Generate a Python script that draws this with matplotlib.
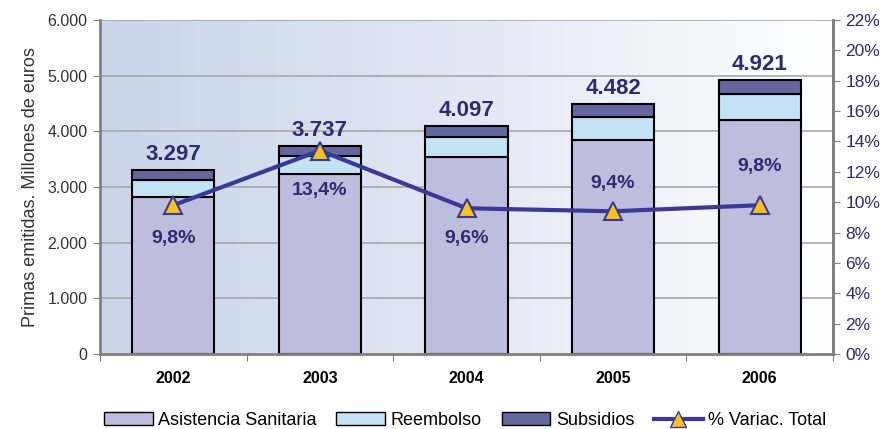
import numpy as np
import matplotlib
matplotlib.use('Agg')
import matplotlib.pyplot as plt
from matplotlib.lines import Line2D
from matplotlib.patches import Patch
from matplotlib.colors import LinearSegmentedColormap

plt.rcParams['font.family'] = ['Liberation Sans', 'DejaVu Sans']

# data
years = ['2002', '2003', '2004', '2005', '2006']
asistencia = [2820, 3228, 3539, 3850, 4203]
reembolso = [306, 329, 359, 400, 462]
subsidios = [171, 180, 199, 232, 256]
totales = ['3.297', '3.737', '4.097', '4.482', '4.921']
variacion = [9.8, 13.4, 9.6, 9.4, 9.8]
var_labels = ['9,8%', '13,4%', '9,6%', '9,4%', '9,8%']
label_off = [-24, -29, -22, 20, 28]  # points, below (-) or above (+) the line point

c_asis = '#BDBDDD'
c_reem = '#C3E2F4'
c_subs = '#64669E'
c_line = '#3A3A96'
c_text = '#2F2B6E'

fig = plt.figure(figsize=(8.86, 4.29), dpi=100)
ax = fig.add_axes([0.1129, 0.1748, 0.8273, 0.7786])

x = np.arange(len(years))
ax.set_xlim(-0.5, len(years) - 0.5)
ax.set_ylim(0, 6000)

# background gradient
grad = np.linspace(0, 1, 256).reshape(1, -1)
cmap = LinearSegmentedColormap.from_list('bg', ['#C9D5EA', '#E2E8F4', '#FFFFFF'])
ax.imshow(grad, extent=[-0.5, len(years) - 0.5, 0, 6000], aspect='auto',
          cmap=cmap, zorder=0)

for v in range(1000, 6001, 1000):
    ax.axhline(v, color='#A8A8A8', lw=1.2, zorder=1)

w = 0.56
asis = np.array(asistencia)
reem = np.array(reembolso)
subs = np.array(subsidios)
ax.bar(x, asis, w, color=c_asis, edgecolor='black', lw=1.5, zorder=2)
ax.bar(x, reem, w, bottom=asis, color=c_reem, edgecolor='black', lw=1.5, zorder=2)
ax.bar(x, subs, w, bottom=asis + reem, color=c_subs, edgecolor='black', lw=1.5, zorder=2)

tot = asis + reem + subs
for i, t in enumerate(totales):
    ax.text(x[i], tot[i] + 90, t, ha='center', va='bottom', fontsize=16,
            fontweight='bold', color=c_text, zorder=5)

ax.set_xticks(np.arange(-0.5, len(years) + 0.5, 1), minor=False)
ax.set_xticklabels([])
ax.set_xticks(x, minor=True)
ax.set_xticklabels(years, minor=True, fontsize=11.5, fontweight='bold')
ax.tick_params(axis='x', which='minor', length=0, pad=12)
ax.tick_params(axis='x', which='major', length=5, color='#808080', direction='out')

ax.set_yticks(range(0, 6001, 1000))
ax.set_yticklabels(['0', '1.000', '2.000', '3.000', '4.000', '5.000', '6.000'])
ax.tick_params(axis='y', labelsize=11.5, length=5, color='#808080', colors='#333333', pad=4)
ax.set_ylabel('Primas emitidas. Millones de euros', fontsize=13, color='#333333', labelpad=6)

for s in ['left', 'bottom', 'right']:
    ax.spines[s].set_color('#808080')
    ax.spines[s].set_linewidth(2)
ax.spines['top'].set_visible(False)

ax2 = ax.twinx()
ax2.set_ylim(0, 22)
ax2.set_yticks(range(0, 23, 2))
ax2.set_yticklabels(['%d%%' % v for v in range(0, 23, 2)])
ax2.tick_params(axis='y', labelsize=12.5, colors=c_text, length=5, pad=4)
ax2.tick_params(axis='y', color='#808080')
for s in ['left', 'bottom', 'top']:
    ax2.spines[s].set_visible(False)
ax2.spines['right'].set_color('#808080')
ax2.spines['right'].set_linewidth(2)

ax2.plot(x, variacion, color=c_line, lw=3, marker='^', markersize=13,
         markerfacecolor='#F8C21A', markeredgecolor=c_line, markeredgewidth=1.5,
         zorder=4)
for i, lab in enumerate(var_labels):
    ax2.annotate(lab, (x[i], variacion[i]), xytext=(0, label_off[i]),
                 textcoords='offset points', ha='center', va='center',
                 fontsize=14, fontweight='bold', color=c_text, zorder=5)

handles = [Patch(facecolor=c_asis, edgecolor='black', lw=1),
           Patch(facecolor=c_reem, edgecolor='black', lw=1),
           Patch(facecolor=c_subs, edgecolor='black', lw=1),
           Line2D([], [], color=c_line, lw=3, marker='^', markersize=11,
                  markerfacecolor='#F8C21A', markeredgecolor=c_line)]
fig.legend(handles, ['Asistencia Sanitaria', 'Reembolso', 'Subsidios', '% Variac. Total'],
           loc='lower center', bbox_to_anchor=(0.525, -0.038), ncol=4, frameon=False,
           fontsize=13, handlelength=2.7, handleheight=0.75, columnspacing=1.1,
           handletextpad=0.3)

fig.savefig('out.png', dpi=100)
